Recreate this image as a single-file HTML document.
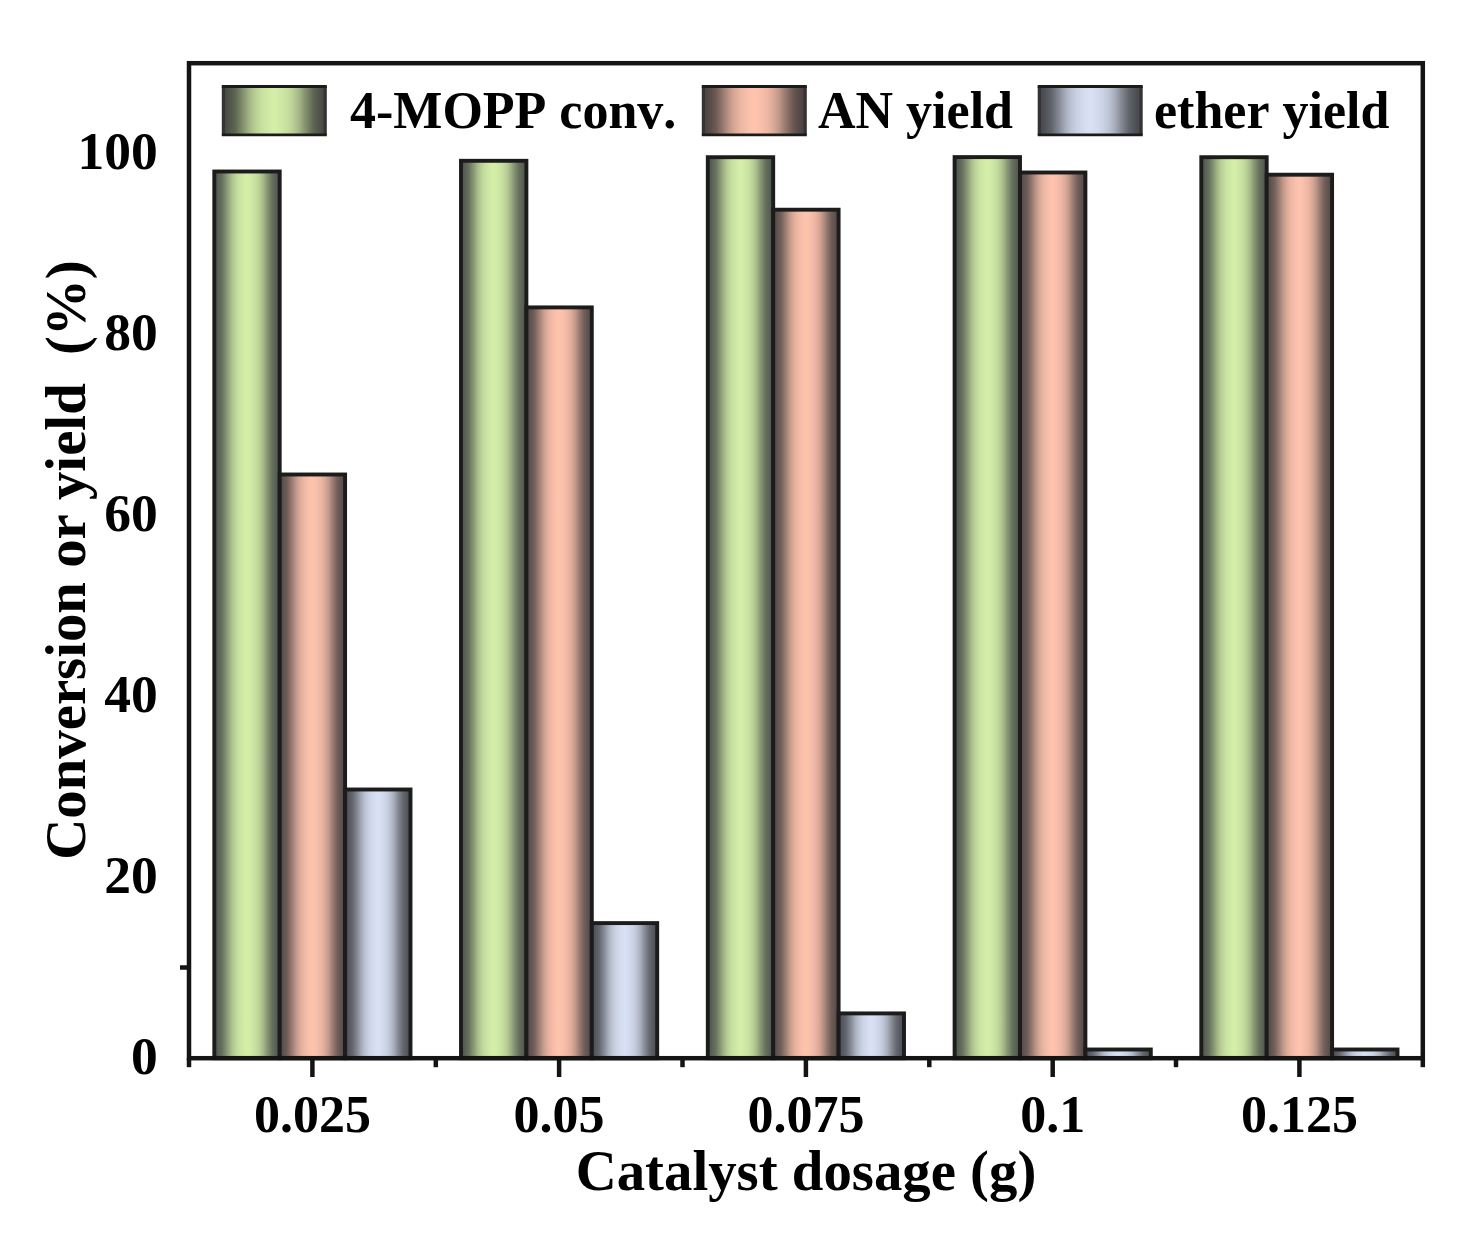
<!DOCTYPE html>
<html lang="en"><head><meta charset="utf-8"><title>Catalyst dosage chart</title>
<style>
html,body{margin:0;padding:0;background:#fff;}
body{width:1484px;height:1233px;overflow:hidden;}
svg{display:block;filter:blur(0.55px);}
text{font-family:"Liberation Serif","Times New Roman",serif;font-weight:bold;fill:#000;font-kerning:none;}
.tick{font-size:53.5px;}
.xtick{font-size:52px;}
.leg{font-size:52px;}
.ax{font-size:56.8px;}
</style></head><body>
<svg width="1484" height="1233" viewBox="0 0 1484 1233">
<defs>
<linearGradient id="gl" x1="0" x2="1" y1="0" y2="0"><stop offset="0.030" stop-color="#494d44"/><stop offset="0.115" stop-color="#5e6553"/><stop offset="0.194" stop-color="#84916e"/><stop offset="0.251" stop-color="#a1b384"/><stop offset="0.307" stop-color="#b7cc93"/><stop offset="0.368" stop-color="#c6de9e"/><stop offset="0.434" stop-color="#cfe9a5"/><stop offset="0.500" stop-color="#d5efa9"/><stop offset="0.566" stop-color="#cfe9a5"/><stop offset="0.632" stop-color="#c6de9e"/><stop offset="0.693" stop-color="#b7cc93"/><stop offset="0.749" stop-color="#a1b384"/><stop offset="0.805" stop-color="#84916e"/><stop offset="0.885" stop-color="#5e6553"/><stop offset="0.970" stop-color="#494d44"/></linearGradient><linearGradient id="sl" x1="0" x2="1" y1="0" y2="0"><stop offset="0.030" stop-color="#4e4442"/><stop offset="0.115" stop-color="#695752"/><stop offset="0.194" stop-color="#987a6f"/><stop offset="0.251" stop-color="#be9586"/><stop offset="0.307" stop-color="#d9a897"/><stop offset="0.368" stop-color="#ecb7a3"/><stop offset="0.434" stop-color="#f8bfaa"/><stop offset="0.500" stop-color="#ffc4ae"/><stop offset="0.566" stop-color="#f8bfaa"/><stop offset="0.632" stop-color="#ecb7a3"/><stop offset="0.693" stop-color="#d9a897"/><stop offset="0.749" stop-color="#be9586"/><stop offset="0.805" stop-color="#987a6f"/><stop offset="0.885" stop-color="#695752"/><stop offset="0.970" stop-color="#4e4442"/></linearGradient><linearGradient id="bl" x1="0" x2="1" y1="0" y2="0"><stop offset="0.030" stop-color="#494b51"/><stop offset="0.115" stop-color="#5f6269"/><stop offset="0.194" stop-color="#858a95"/><stop offset="0.251" stop-color="#a4aab8"/><stop offset="0.307" stop-color="#bac1d1"/><stop offset="0.368" stop-color="#cad1e3"/><stop offset="0.434" stop-color="#d3dbed"/><stop offset="0.500" stop-color="#d9e1f4"/><stop offset="0.566" stop-color="#d3dbed"/><stop offset="0.632" stop-color="#cad1e3"/><stop offset="0.693" stop-color="#bac1d1"/><stop offset="0.749" stop-color="#a4aab8"/><stop offset="0.805" stop-color="#858a95"/><stop offset="0.885" stop-color="#5f6269"/><stop offset="0.970" stop-color="#494b51"/></linearGradient><linearGradient id="g" x1="0" x2="1" y1="0" y2="0"><stop offset="0.030" stop-color="#525950"/><stop offset="0.115" stop-color="#66705d"/><stop offset="0.194" stop-color="#899875"/><stop offset="0.251" stop-color="#a5b888"/><stop offset="0.307" stop-color="#b9cf96"/><stop offset="0.368" stop-color="#c7dfa0"/><stop offset="0.434" stop-color="#d0e9a5"/><stop offset="0.500" stop-color="#d5efa9"/><stop offset="0.566" stop-color="#d0e9a5"/><stop offset="0.632" stop-color="#c7dfa0"/><stop offset="0.693" stop-color="#b9cf96"/><stop offset="0.749" stop-color="#a5b888"/><stop offset="0.805" stop-color="#899875"/><stop offset="0.885" stop-color="#66705d"/><stop offset="0.970" stop-color="#525950"/></linearGradient>
<linearGradient id="s" x1="0" x2="1" y1="0" y2="0"><stop offset="0.030" stop-color="#574c4a"/><stop offset="0.115" stop-color="#705e59"/><stop offset="0.194" stop-color="#9e7e74"/><stop offset="0.251" stop-color="#c19889"/><stop offset="0.307" stop-color="#dbaa98"/><stop offset="0.368" stop-color="#edb7a4"/><stop offset="0.434" stop-color="#f8bfaa"/><stop offset="0.500" stop-color="#ffc4ae"/><stop offset="0.566" stop-color="#f8bfaa"/><stop offset="0.632" stop-color="#edb7a4"/><stop offset="0.693" stop-color="#dbaa98"/><stop offset="0.749" stop-color="#c19889"/><stop offset="0.805" stop-color="#9e7e74"/><stop offset="0.885" stop-color="#705e59"/><stop offset="0.970" stop-color="#574c4a"/></linearGradient>
<linearGradient id="b" x1="0" x2="1" y1="0" y2="0"><stop offset="0.030" stop-color="#4f5157"/><stop offset="0.115" stop-color="#64676f"/><stop offset="0.194" stop-color="#898d99"/><stop offset="0.251" stop-color="#a6acba"/><stop offset="0.307" stop-color="#bbc2d2"/><stop offset="0.368" stop-color="#cbd2e4"/><stop offset="0.434" stop-color="#d3dbee"/><stop offset="0.500" stop-color="#d9e1f4"/><stop offset="0.566" stop-color="#d3dbee"/><stop offset="0.632" stop-color="#cbd2e4"/><stop offset="0.693" stop-color="#bbc2d2"/><stop offset="0.749" stop-color="#a6acba"/><stop offset="0.805" stop-color="#898d99"/><stop offset="0.885" stop-color="#64676f"/><stop offset="0.970" stop-color="#4f5157"/></linearGradient>
</defs>
<rect width="1484" height="1233" fill="#fff"/>
<g id="bars" stroke="#1c1c1c" stroke-width="3.9">
<rect x="214.3" y="171.5" width="65.4" height="886.7" fill="url(#g)"/>
<rect x="279.7" y="474.5" width="65.4" height="583.7" fill="url(#s)"/>
<rect x="345.1" y="789.5" width="65.4" height="268.7" fill="url(#b)"/>
<rect x="461.0" y="160.8" width="65.4" height="897.4" fill="url(#g)"/>
<rect x="526.4" y="307.4" width="65.4" height="750.8" fill="url(#s)"/>
<rect x="591.8" y="923.1" width="65.4" height="135.1" fill="url(#b)"/>
<rect x="707.8" y="157.2" width="65.4" height="901.0" fill="url(#g)"/>
<rect x="773.2" y="209.7" width="65.4" height="848.5" fill="url(#s)"/>
<rect x="838.6" y="1013.4" width="65.4" height="44.8" fill="url(#b)"/>
<rect x="954.6" y="157.1" width="65.4" height="901.1" fill="url(#g)"/>
<rect x="1020.0" y="172.5" width="65.4" height="885.7" fill="url(#s)"/>
<rect x="1085.4" y="1049.5" width="65.4" height="8.7" fill="url(#b)"/>
<rect x="1201.3" y="157.2" width="65.4" height="901.0" fill="url(#g)"/>
<rect x="1266.7" y="174.7" width="65.4" height="883.5" fill="url(#s)"/>
<rect x="1332.1" y="1049.5" width="65.4" height="8.7" fill="url(#b)"/>
</g>
<g id="frame" stroke="#141414" stroke-width="4.5" fill="none" stroke-linecap="butt">
<rect x="189.0" y="63.2" width="1233.8" height="995.0"/>
<line x1="189.0" y1="1058.2" x2="189.0" y2="1067.2"/>
<line x1="435.8" y1="1058.2" x2="435.8" y2="1067.2"/>
<line x1="682.5" y1="1058.2" x2="682.5" y2="1067.2"/>
<line x1="929.3" y1="1058.2" x2="929.3" y2="1067.2"/>
<line x1="1176.0" y1="1058.2" x2="1176.0" y2="1067.2"/>
<line x1="1422.8" y1="1058.2" x2="1422.8" y2="1067.2"/>
<line x1="312.4" y1="1058.2" x2="312.4" y2="1077"/>
<line x1="559.1" y1="1058.2" x2="559.1" y2="1077"/>
<line x1="805.9" y1="1058.2" x2="805.9" y2="1077"/>
<line x1="1052.7" y1="1058.2" x2="1052.7" y2="1077"/>
<line x1="1299.4" y1="1058.2" x2="1299.4" y2="1077"/>
<line x1="189.0" y1="967.5" x2="180.0" y2="967.5"/>
</g>
<g id="legend">
<rect x="223.4" y="86.6" width="101.8" height="48.2" fill="url(#gl)"/>
<path d="M223.4 86.6v48.2M325.2 86.6v48.2" stroke="#333432" stroke-width="3.2" fill="none"/>
<path d="M221.8 86.5h105M221.8 134.9h105" stroke="#1b1c18" stroke-width="2.8" fill="none"/>
<rect x="703.4" y="86.6" width="101.8" height="48.2" fill="url(#sl)"/>
<path d="M703.4 86.6v48.2M805.1999999999999 86.6v48.2" stroke="#333432" stroke-width="3.2" fill="none"/>
<path d="M701.8 86.5h105M701.8 134.9h105" stroke="#1b1c18" stroke-width="2.8" fill="none"/>
<rect x="1039.3" y="86.6" width="101.8" height="48.2" fill="url(#bl)"/>
<path d="M1039.3 86.6v48.2M1141.1 86.6v48.2" stroke="#333432" stroke-width="3.2" fill="none"/>
<path d="M1037.7 86.5h105M1037.7 134.9h105" stroke="#1b1c18" stroke-width="2.8" fill="none"/>
</g>
<text class="leg" x="350" y="128">4-MOPP conv.</text>
<text class="leg" x="818" y="128">AN yield</text>
<text class="leg" x="1154" y="128">ether yield</text>
<text class="tick" x="157.7" y="1073.5" text-anchor="end">0</text>
<text class="tick" x="157.7" y="892.6" text-anchor="end">20</text>
<text class="tick" x="157.7" y="711.7" text-anchor="end">40</text>
<text class="tick" x="157.7" y="530.8" text-anchor="end">60</text>
<text class="tick" x="157.7" y="349.9" text-anchor="end">80</text>
<text class="tick" x="157.7" y="169.0" text-anchor="end">100</text>
<text class="xtick" x="312.4" y="1131.5" text-anchor="middle">0.025</text>
<text class="xtick" x="559.1" y="1131.5" text-anchor="middle">0.05</text>
<text class="xtick" x="805.9" y="1131.5" text-anchor="middle">0.075</text>
<text class="xtick" x="1052.7" y="1131.5" text-anchor="middle">0.1</text>
<text class="xtick" x="1299.4" y="1131.5" text-anchor="middle">0.125</text>
<text class="ax" x="806" y="1190" text-anchor="middle">Catalyst dosage (g)</text>
<text class="ax" transform="translate(85.3,560) rotate(-90)" text-anchor="middle" xml:space="preserve">Conversion or yield  (%)</text>
</svg>
</body></html>
